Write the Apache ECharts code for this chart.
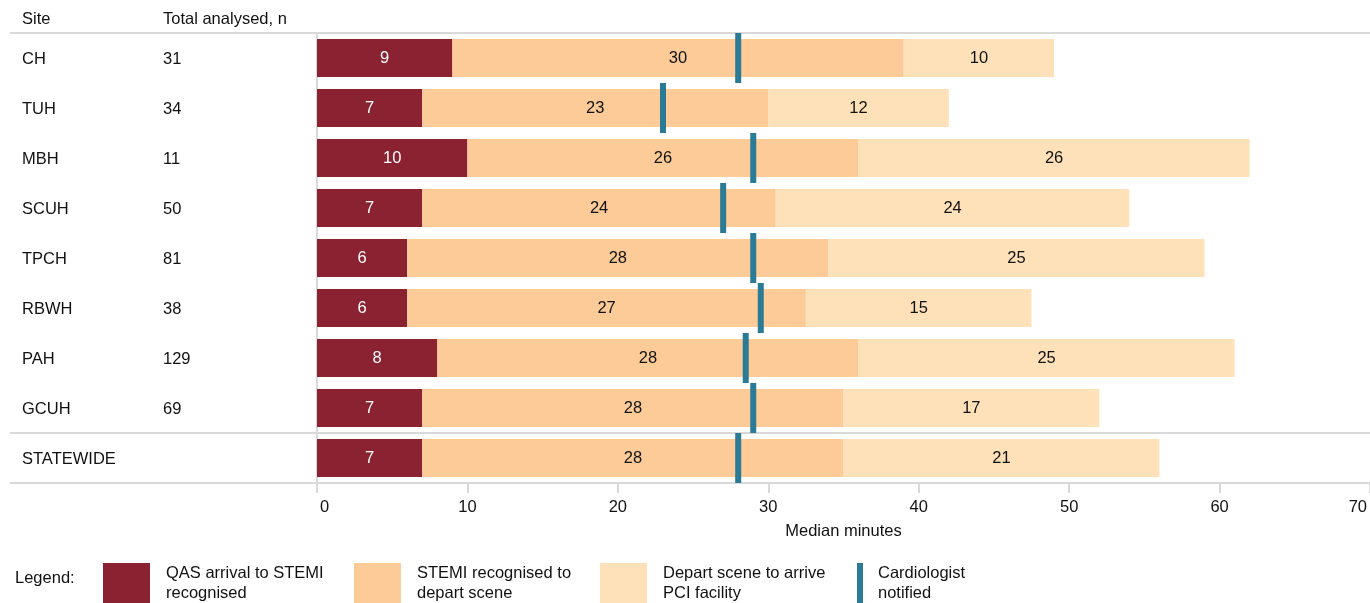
<!DOCTYPE html>
<html>
<head>
<meta charset="utf-8">
<script src="https://cdn.jsdelivr.net/npm/echarts@6/dist/echarts.min.js"></script>
<style>
html,body{margin:0;padding:0;background:#fff;}
#chart{width:1370px;height:603px;}
</style>
</head>
<body>
<div id="chart"></div>
<script>
const sites = ['CH', 'TUH', 'MBH', 'SCUH', 'TPCH', 'RBWH', 'PAH', 'GCUH', 'STATEWIDE'];
const totals = ['31', '34', '11', '50', '81', '38', '129', '69', ''];
const qasToRecognised = [9, 7, 10, 7, 6, 6, 8, 7, 7];
const recognisedToDepart = [30, 23, 26, 23.5, 28, 26.5, 28, 28, 28];
const departToArrive = [10, 12, 26, 23.5, 25, 15, 25, 17, 21];
const cardiologistNotified = [28, 23, 29, 27, 29, 29.5, 28.5, 29, 28];
const seriesNames = ['QAS arrival to STEMI recognised', 'STEMI recognised to depart scene', 'Depart scene to arrive PCI facility', 'Cardiologist notified'];
const legendLabels = ['QAS arrival to STEMI\nrecognised', 'STEMI recognised to\ndepart scene', 'Depart scene to arrive\nPCI facility', 'Cardiologist\nnotified'];
const xMin = 0, xMax = 70, xStep = 10;

const FONT = "'Liberation Sans', Arial, sans-serif";
const FS = 16.5;
const TXT = '#111111';
const colors = ['#8B2232', '#FDCB98', '#FEE0B9', '#2B7A96'];
const GRID_LINE = '#d9d9d9';

const chart = echarts.init(document.getElementById('chart'), null, {renderer: 'canvas'});

function barSeries(i, data, labelColor) {
  return {
    name: seriesNames[i],
    type: 'bar',
    stack: 'total',
    barWidth: 38,
    data: data,
    itemStyle: {color: colors[i]},
    label: {
      show: true,
      position: 'inside',
      color: labelColor,
      fontSize: FS,
      fontFamily: FONT,
      formatter: p => String(Math.round(p.value))
    },
    emphasis: {disabled: true}
  };
}

const legendX = [103, 354, 600, 857];
const legends = seriesNames.map((name, i) => ({
  data: [{name: name, icon: 'rect'}],
  left: legendX[i],
  top: 563,
  padding: 0,
  itemWidth: i === 3 ? 6 : 47,
  itemHeight: 41,
  selectedMode: false,
  formatter: () => legendLabels[i],
  textStyle: {
    fontSize: FS,
    fontFamily: FONT,
    color: TXT,
    lineHeight: 20,
    padding: [0, 0, 0, i === 3 ? 10 : 11]
  }
}));

const option = {
  animation: false,
  textStyle: {fontFamily: FONT},
  grid: {left: 317, top: 33, width: 1056, height: 450, containLabel: false},
  legend: legends,
  xAxis: {
    type: 'value',
    min: xMin,
    max: xMax,
    interval: xStep,
    name: 'Median minutes',
    nameLocation: 'middle',
    nameGap: 40,
    nameTextStyle: {fontSize: FS, color: TXT, fontFamily: FONT},
    axisLine: {show: false},
    axisTick: {show: true, length: 10, lineStyle: {color: GRID_LINE, width: 2}},
    splitLine: {show: false},
    axisLabel: {
      fontSize: FS,
      color: TXT,
      margin: 16,
      alignMinLabel: 'left',
      alignMaxLabel: 'right',
      formatter: v => v === xMax ? '{r|' + v + '}' : (v === xMin ? '{l|' + v + '}' : String(v)),
      rich: {
        r: {fontSize: FS, color: TXT, fontFamily: FONT, padding: [0, 3, 0, 0]},
        l: {fontSize: FS, color: TXT, fontFamily: FONT, padding: [0, 0, 0, 3]}
      }
    }
  },
  yAxis: {
    type: 'category',
    data: sites,
    inverse: true,
    axisLine: {show: true, lineStyle: {color: GRID_LINE, width: 2}},
    axisTick: {show: false},
    splitLine: {show: false},
    axisLabel: {
      align: 'left',
      margin: 295,
      formatter: (v, idx) => '{s|' + v + '}{n|' + totals[idx] + '}',
      rich: {
        s: {width: 141, fontSize: FS, color: TXT, fontFamily: FONT, padding: [2, 0, 0, 0]},
        n: {fontSize: FS, color: TXT, fontFamily: FONT, padding: [2, 0, 0, 0]}
      }
    }
  },
  series: [
    barSeries(0, qasToRecognised, '#ffffff'),
    barSeries(1, recognisedToDepart, TXT),
    barSeries(2, departToArrive, TXT),
    {
      name: seriesNames[3],
      type: 'scatter',
      symbol: 'rect',
      symbolSize: [6, 50],
      z: 5,
      itemStyle: {color: colors[3], opacity: 1},
      data: cardiologistNotified.map((v, i) => [v, sites[i]]),
      emphasis: {disabled: true}
    }
  ],
  graphic: [
    {type: 'text', left: 22, top: 11, style: {text: 'Site', fontSize: FS, fill: TXT, fontFamily: FONT}},
    {type: 'text', left: 163, top: 11, style: {text: 'Total analysed, n', fontSize: FS, fill: TXT, fontFamily: FONT}},
    {type: 'text', left: 15, top: 570, style: {text: 'Legend:', fontSize: FS, fill: TXT, fontFamily: FONT}},
    {type: 'line', shape: {x1: 10, y1: 33, x2: 1370, y2: 33}, style: {stroke: GRID_LINE, lineWidth: 2}, z: 1},
    {type: 'line', shape: {x1: 10, y1: 433, x2: 1370, y2: 433}, style: {stroke: GRID_LINE, lineWidth: 2}, z: 1},
    {type: 'line', shape: {x1: 10, y1: 483, x2: 1370, y2: 483}, style: {stroke: GRID_LINE, lineWidth: 2}, z: 1}
  ]
};

chart.setOption(option);
</script>
</body>
</html>
